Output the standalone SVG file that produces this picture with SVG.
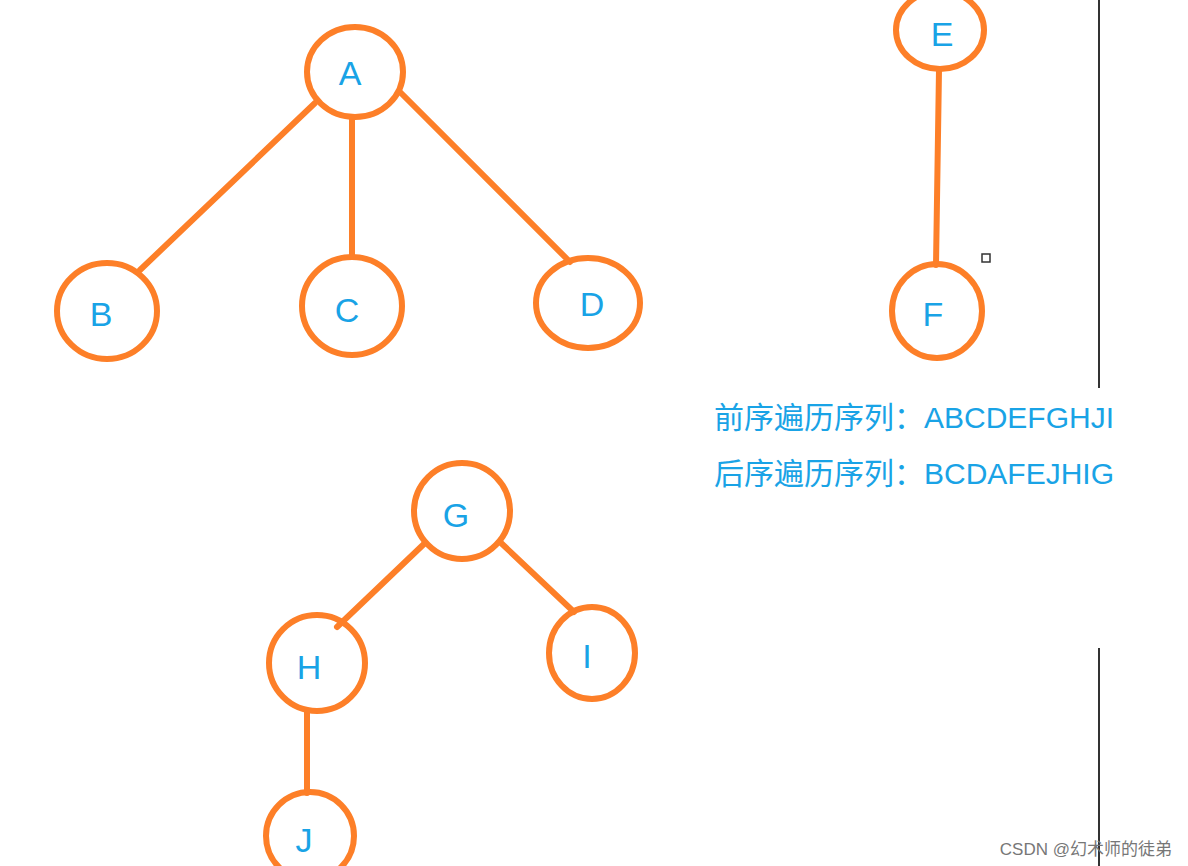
<svg xmlns="http://www.w3.org/2000/svg" width="1188" height="866" viewBox="0 0 1188 866">
<style>
.n{fill:none;stroke:#fd7f28;stroke-width:6}
.e{stroke:#fd7f28;stroke-width:6;stroke-linecap:round;fill:none}
.t{font-family:"Liberation Sans",Arial,sans-serif;font-size:34px;fill:#19a3e6;text-anchor:middle}
.s{font-family:"Liberation Sans","Noto Sans CJK SC",sans-serif;font-size:30px;fill:#19a3e6}
</style>
<rect width="1188" height="866" fill="#fff"/>
<g id="connectors">
<line class="e" x1="315" y1="103" x2="140" y2="270"/>
<line class="e" x1="352" y1="118" x2="352" y2="256"/>
<line class="e" x1="400" y1="92" x2="570" y2="262"/>
<line class="e" x1="939" y1="70" x2="936" y2="265"/>
<line class="e" x1="425" y1="543" x2="337" y2="627"/>
<line class="e" x1="500" y1="542" x2="574" y2="612"/>
<line class="e" x1="307" y1="712" x2="307" y2="793"/>
</g>
<g id="A"><ellipse class="n" cx="355" cy="72" rx="48" ry="45"/><text class="t" x="350" y="85">A</text></g>
<g id="B"><ellipse class="n" cx="107" cy="311" rx="50" ry="48"/><text class="t" x="101" y="326">B</text></g>
<g id="C"><ellipse class="n" cx="352" cy="306" rx="50" ry="49"/><text class="t" x="347" y="322">C</text></g>
<g id="D"><ellipse class="n" cx="588" cy="303" rx="52" ry="45"/><text class="t" x="592" y="316">D</text></g>
<g id="E"><ellipse class="n" cx="940" cy="30" rx="44" ry="39"/><text class="t" x="942" y="46">E</text></g>
<g id="F"><ellipse class="n" cx="937" cy="311" rx="45" ry="47"/><text class="t" x="933" y="326">F</text></g>
<g id="G"><ellipse class="n" cx="462" cy="511" rx="48" ry="48"/><text class="t" x="456" y="527">G</text></g>
<g id="H"><ellipse class="n" cx="317" cy="663" rx="48" ry="48"/><text class="t" x="309" y="679">H</text></g>
<g id="I"><ellipse class="n" cx="592" cy="653" rx="43" ry="46"/><text class="t" x="587" y="668">I</text></g>
<g id="J"><ellipse class="n" cx="310" cy="836" rx="44" ry="44"/><text class="t" x="304" y="852">J</text></g>
<line x1="1099" y1="0" x2="1099" y2="388" stroke="#333" stroke-width="2"/>
<line x1="1099" y1="648" x2="1099" y2="866" stroke="#333" stroke-width="2"/>
<rect x="982" y="254" width="8" height="8" fill="#fff" stroke="#333" stroke-width="1.5"/>
<text class="s" x="714" y="428">前序遍历序列：ABCDEFGHJI</text>
<text class="s" x="714" y="484">后序遍历序列：BCDAFEJHIG</text>
<text x="1172" y="855" text-anchor="end" font-family="'Liberation Sans','Noto Sans CJK SC',sans-serif" font-size="17" fill="#777">CSDN @幻术师的徒弟</text>
</svg>
